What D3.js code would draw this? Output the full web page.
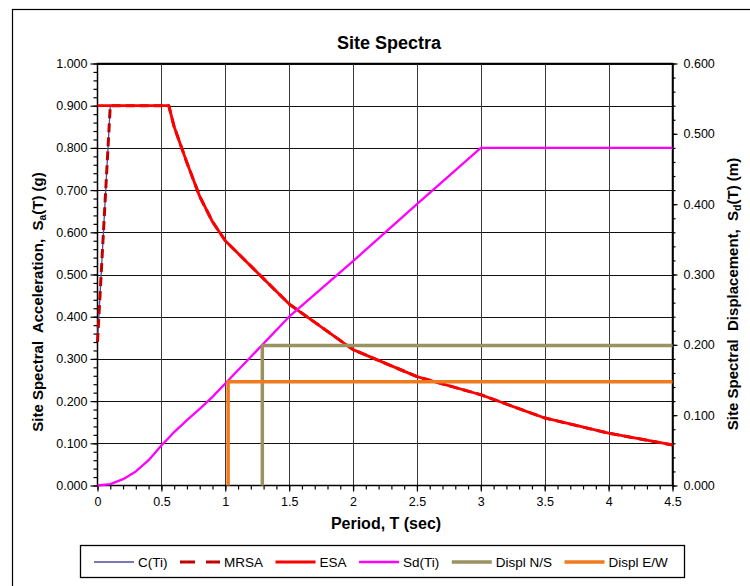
<!DOCTYPE html>
<html>
<head>
<meta charset="utf-8">
<script src="https://cdn.jsdelivr.net/npm/d3@7"></script>
<style>
  body { margin: 0; background: #fff; }
  svg { display: block; }
  text { font-family: "Liberation Sans", Arial, sans-serif; fill: #000; }
</style>
</head>
<body>
<svg id="chart" width="750" height="586"></svg>
<script>
// Period values (sec) shared by the spectral curves
const periods = [0, 0.1, 0.2, 0.3, 0.4, 0.5, 0.558, 0.6, 0.7, 0.8, 0.9, 1.0, 1.5, 2.0, 2.5, 3.0, 3.5, 4.0, 4.5];
// Spectral acceleration, g (left axis)
const cTi  = [0.34, 0.9, 0.9, 0.9, 0.9, 0.9, 0.9, 0.85, 0.765, 0.685, 0.625, 0.58, 0.43, 0.322, 0.258, 0.215, 0.16, 0.124, 0.096];
const mrsa = [0.34, 0.9, 0.9, 0.9, 0.9, 0.9, 0.9, 0.85, 0.765, 0.685, 0.625, 0.58, 0.43, 0.322, 0.258, 0.215, 0.16, 0.124, 0.096];
const esa  = [0.9, 0.9, 0.9, 0.9, 0.9, 0.9, 0.9, 0.85, 0.765, 0.685, 0.625, 0.58, 0.43, 0.322, 0.258, 0.215, 0.16, 0.124, 0.096];
// Spectral displacement, m (right axis)
const sdTi = [0, 0.002, 0.009, 0.020, 0.036, 0.057, 0.068, 0.076, 0.093, 0.109, 0.126, 0.145, 0.240, 0.319, 0.400, 0.480, 0.480, 0.480, 0.480];
// Displacement demand markers (period, displacement m)
const displNSPeriods = [1.29, 1.29, 4.5];
const displNS        = [0, 0.199, 0.199];
const displEWPeriods = [1.022, 1.022, 4.5];
const displEW        = [0, 0.1475, 0.1475];
// Axis ticks
const xTicks  = [0, 0.5, 1, 1.5, 2, 2.5, 3, 3.5, 4, 4.5];
const yLTicks = [0, 0.1, 0.2, 0.3, 0.4, 0.5, 0.6, 0.7, 0.8, 0.9, 1.0];
const yRTicks = [0, 0.1, 0.2, 0.3, 0.4, 0.5, 0.6];

const svg = d3.select("#chart");
const plot = { left: 97.5, right: 672.5, top: 63.5, bottom: 485.5 };

// chart frame (runs off the page to the right and bottom)
svg.append("rect")
  .attr("x", 12.5).attr("y", 9.5).attr("width", 800).attr("height", 700)
  .attr("fill", "#fff").attr("stroke", "#000").attr("stroke-width", 1.2);

const x  = d3.scaleLinear().domain([0, 4.5]).range([plot.left, plot.right]);
const yL = d3.scaleLinear().domain([0, 1]).range([plot.bottom, plot.top]);
const yR = d3.scaleLinear().domain([0, 0.6]).range([plot.bottom, plot.top]);

// gridlines
const grid = svg.append("g");
grid.selectAll(".hg").data(yLTicks.filter(d => d > 0)).join("line")
  .attr("x1", plot.left).attr("x2", plot.right)
  .attr("y1", d => Math.round(yL(d)) + 0.5).attr("y2", d => Math.round(yL(d)) + 0.5)
  .attr("stroke", "#111").attr("stroke-width", 1);
grid.selectAll(".vg").data(xTicks.filter(d => d > 0)).join("line")
  .attr("y1", plot.top).attr("y2", plot.bottom)
  .attr("x1", d => Math.round(x(d)) + 0.5).attr("x2", d => Math.round(x(d)) + 0.5)
  .attr("stroke", "#3a3a3a").attr("stroke-width", 1);

// axes
function styleAxis(g) {
  g.select(".domain").remove();
  g.selectAll("line").attr("stroke", "#000").attr("stroke-width", 1.2);
  g.selectAll("text").style("font-size", "12.5px").attr("fill", "#000");
}
const minorX  = d3.range(0, 4.5001, 0.1);
const minorYL = d3.range(0, 1.0001, 0.02);
const minorYR = d3.range(0, 0.6001, 0.02);

svg.append("g").attr("transform", `translate(${plot.left},0)`)
  .call(d3.axisLeft(yL).tickValues(minorYL).tickSize(4).tickFormat("")).call(styleAxis);
svg.append("g").attr("transform", `translate(${plot.left},0)`)
  .call(d3.axisLeft(yL).tickValues(yLTicks).tickSize(7).tickPadding(3).tickFormat(d3.format(".3f"))).call(styleAxis);

svg.append("g").attr("transform", `translate(${plot.right},0)`)
  .call(d3.axisRight(yR).tickValues(minorYR).tickSize(3).tickFormat("")).call(styleAxis);
svg.append("g").attr("transform", `translate(${plot.right},0)`)
  .call(d3.axisRight(yR).tickValues(yRTicks).tickSize(5).tickPadding(6).tickFormat(d3.format(".3f"))).call(styleAxis);

svg.append("g").attr("transform", `translate(0,${plot.bottom})`)
  .call(d3.axisBottom(x).tickValues(minorX).tickSize(4).tickFormat("")).call(styleAxis);
svg.append("g").attr("transform", `translate(0,${plot.bottom})`)
  .call(d3.axisBottom(x).tickValues(xTicks).tickSize(6).tickPadding(6).tickFormat(d3.format("~g"))).call(styleAxis);

// plot frame
svg.append("rect")
  .attr("x", plot.left).attr("y", plot.top)
  .attr("width", plot.right - plot.left).attr("height", plot.bottom - plot.top)
  .attr("fill", "none").attr("stroke", "#000").attr("stroke-width", 1.5);

// series
const series = [
  { name: "C(Ti)",     xs: periods,        ys: cTi,      y: yL, color: "#4b4ba0", width: 1.3, dash: null },
  { name: "MRSA",      xs: periods,        ys: mrsa,     y: yL, color: "#c00000", width: 3,   dash: "9,5" },
  { name: "ESA",       xs: periods,        ys: esa,      y: yL, color: "#ff0000", width: 2.8, dash: null },
  { name: "Sd(Ti)",    xs: periods,        ys: sdTi,     y: yR, color: "#ff00ff", width: 2.3, dash: null },
  { name: "Displ N/S", xs: displNSPeriods, ys: displNS,  y: yR, color: "#9b9262", width: 3.5, dash: null },
  { name: "Displ E/W", xs: displEWPeriods, ys: displEW,  y: yR, color: "#f07a1e", width: 3.5, dash: null }
];

const gSeries = svg.append("g");
series.forEach(s => {
  const line = d3.line().x(d => x(d[0])).y(d => s.y(d[1]));
  gSeries.append("path")
    .datum(s.xs.map((t, i) => [t, s.ys[i]]))
    .attr("d", line)
    .attr("fill", "none")
    .attr("stroke", s.color)
    .attr("stroke-width", s.width)
    .attr("stroke-linejoin", "round")
    .attr("stroke-dasharray", s.dash);
});

// title
svg.append("text").attr("x", 389).attr("y", 49).attr("text-anchor", "middle")
  .style("font-size", "18px").style("font-weight", "bold").text("Site Spectra");

// axis titles
svg.append("text").attr("x", (plot.left + plot.right) / 2 + 1).attr("y", 529).attr("text-anchor", "middle")
  .style("font-size", "16px").style("font-weight", "bold").text("Period, T (sec)");

function axisTitle(cx, cy, pre, sub, post) {
  const t = svg.append("text")
    .attr("transform", `translate(${cx},${cy}) rotate(-90)`)
    .attr("text-anchor", "middle")
    .style("font-size", "15px").style("font-weight", "bold").style("white-space", "pre");
  t.append("tspan").text(pre);
  t.append("tspan").attr("dy", 3).style("font-size", "10.5px").text(sub);
  t.append("tspan").attr("dy", -3).text(post);
}
axisTitle(43, 302, "Site Spectral  Acceleration,  S", "a", "(T) (g)");
axisTitle(738, 294, "Site Spectral  Displacement,  S", "d", "(T) (m)");

// legend
const legend = svg.append("g");
legend.append("rect").attr("x", 80.5).attr("y", 545.5).attr("width", 604).attr("height", 32)
  .attr("fill", "#fff").attr("stroke", "#000").attr("stroke-width", 1.3);
let lx = 94;
const ly = 562;
series.forEach(s => {
  legend.append("line").attr("x1", lx).attr("x2", lx + 40).attr("y1", ly).attr("y2", ly)
    .attr("stroke", s.color).attr("stroke-width", s.width)
    .attr("stroke-dasharray", s.dash ? "15,11" : null);
  const t = legend.append("text").attr("x", lx + 44).attr("y", ly + 5)
    .style("font-size", "13.5px").text(s.name);
  lx = lx + 44 + t.node().getComputedTextLength() + 12.5;
});
</script>
</body>
</html>
